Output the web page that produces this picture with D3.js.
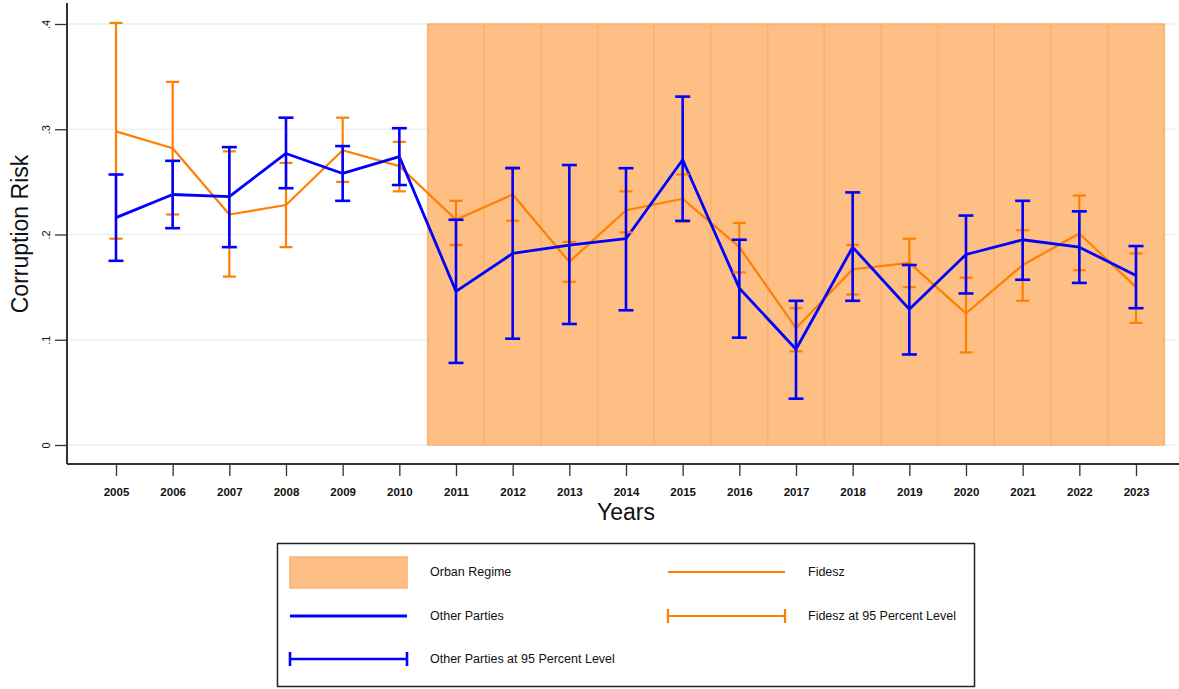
<!DOCTYPE html>
<html>
<head>
<meta charset="utf-8">
<script src="https://cdn.jsdelivr.net/npm/d3@7"></script>
<style>
  html, body { margin: 0; padding: 0; background: #fff; }
  svg { display: block; font-family: "Liberation Sans", Arial, sans-serif; }
</style>
</head>
<body>
<svg id="chart" width="1179" height="689"></svg>
<script>
// Yearly corruption-risk estimates with 95% confidence intervals
const years = [2005, 2006, 2007, 2008, 2009, 2010, 2011, 2012, 2013, 2014,
               2015, 2016, 2017, 2018, 2019, 2020, 2021, 2022, 2023];

const fideszMean = [0.298, 0.282, 0.219, 0.228, 0.280, 0.265, 0.214, 0.238, 0.174, 0.223,
                    0.234, 0.188, 0.111, 0.167, 0.173, 0.125, 0.171, 0.201, 0.150];
const fideszLow  = [0.196, 0.219, 0.160, 0.188, 0.250, 0.241, 0.190, 0.213, 0.155, 0.202,
                    0.212, 0.164, 0.089, 0.143, 0.150, 0.088, 0.137, 0.166, 0.116];
const fideszHigh = [0.401, 0.345, 0.279, 0.268, 0.311, 0.288, 0.232, 0.264, 0.193, 0.241,
                    0.257, 0.211, 0.130, 0.190, 0.196, 0.159, 0.204, 0.237, 0.182];

const otherMean = [0.216, 0.238, 0.236, 0.277, 0.258, 0.274, 0.146, 0.182, 0.190, 0.196,
                   0.271, 0.149, 0.091, 0.188, 0.129, 0.181, 0.195, 0.188, 0.161];
const otherLow  = [0.175, 0.206, 0.188, 0.244, 0.232, 0.247, 0.078, 0.101, 0.115, 0.128,
                   0.213, 0.102, 0.044, 0.137, 0.086, 0.144, 0.157, 0.154, 0.130];
const otherHigh = [0.257, 0.270, 0.283, 0.311, 0.284, 0.301, 0.214, 0.263, 0.266, 0.263,
                   0.331, 0.195, 0.137, 0.240, 0.171, 0.218, 0.232, 0.222, 0.189];

// Years under the Orban government, shaded up to the top of the scale
const regimeYears = [2011, 2012, 2013, 2014, 2015, 2016, 2017, 2018, 2019, 2020, 2021, 2022, 2023];
const regimeTop = 0.4;

const yTicks = [0, 0.1, 0.2, 0.3, 0.4];
const yTickLabels = ["0", ".1", ".2", ".3", ".4"];

const ORANGE = "#ff7f00";
const BLUE = "#0000ff";
const SHADE = "#fdbf84";
const SHADE_EDGE = "#fbb173";

const svg = d3.select("#chart");

const x = d3.scaleLinear().domain([2005, 2023]).range([116, 1136]);
const y = d3.scaleLinear().domain([0, 0.4]).range([445, 24]);

const plotLeft = 67, plotRight = 1179, plotTop = 3, plotBottom = 464;

// Horizontal gridlines
svg.append("g").selectAll("line").data(yTicks).join("line")
  .attr("x1", plotLeft).attr("x2", 1175)
  .attr("y1", d => y(d)).attr("y2", d => y(d))
  .attr("stroke", "#e9f1f3").attr("stroke-width", 1.5);

// Orban regime shading: one bar per year
svg.append("g").selectAll("rect").data(regimeYears).join("rect")
  .attr("x", d => x(d - 0.5))
  .attr("width", d => x(d + 0.5) - x(d - 0.5))
  .attr("y", y(regimeTop))
  .attr("height", y(0) - y(regimeTop))
  .attr("fill", SHADE)
  .attr("stroke", SHADE_EDGE).attr("stroke-width", 1.5);

const rows = years.map((yr, i) => ({
  yr, fm: fideszMean[i], fl: fideszLow[i], fh: fideszHigh[i],
  om: otherMean[i], ol: otherLow[i], oh: otherHigh[i]
}));

// Mean lines
svg.append("path").datum(rows)
  .attr("fill", "none").attr("stroke", ORANGE).attr("stroke-width", 2.2)
  .attr("stroke-linejoin", "round")
  .attr("d", d3.line().x(d => x(d.yr)).y(d => y(d.fm)));

svg.append("path").datum(rows)
  .attr("fill", "none").attr("stroke", BLUE).attr("stroke-width", 2.8)
  .attr("stroke-linejoin", "round")
  .attr("d", d3.line().x(d => x(d.yr)).y(d => y(d.om)));

// Range caps (95% intervals)
function drawCaps(lowKey, highKey, color, width, capHalf) {
  const g = svg.append("g").attr("stroke", color).attr("stroke-width", width).attr("fill", "none");
  const sel = g.selectAll("g").data(rows).join("g");
  sel.append("line")
    .attr("x1", d => x(d.yr)).attr("x2", d => x(d.yr))
    .attr("y1", d => y(d[lowKey])).attr("y2", d => y(d[highKey]));
  sel.append("line")
    .attr("x1", d => x(d.yr) - capHalf).attr("x2", d => x(d.yr) + capHalf)
    .attr("y1", d => y(d[lowKey])).attr("y2", d => y(d[lowKey]));
  sel.append("line")
    .attr("x1", d => x(d.yr) - capHalf).attr("x2", d => x(d.yr) + capHalf)
    .attr("y1", d => y(d[highKey])).attr("y2", d => y(d[highKey]));
}
drawCaps("fl", "fh", ORANGE, 2.2, 6.5);
drawCaps("ol", "oh", BLUE, 2.6, 7.5);

// Axes
const yAxis = svg.append("g").attr("transform", `translate(${plotLeft},0)`)
  .call(d3.axisLeft(y).tickValues(yTicks).tickSize(12).tickFormat((d, i) => yTickLabels[i]));
yAxis.select(".domain").attr("d", `M0,${plotTop}V${plotBottom}`);
const xAxis = svg.append("g").attr("transform", `translate(0,${plotBottom})`)
  .call(d3.axisBottom(x).tickValues(years).tickSize(12).tickFormat(d3.format("d")));
xAxis.select(".domain").attr("d", `M${plotLeft},0H${plotRight}`);

[yAxis, xAxis].forEach(a => {
  a.select(".domain").attr("stroke", "#333").attr("stroke-width", 2);
  a.selectAll(".tick line").attr("stroke", "#333").attr("stroke-width", 1.3);
});

xAxis.selectAll(".tick text")
  .attr("y", 24).attr("font-size", 11.5).attr("fill", "#111")
  .attr("font-family", "'Liberation Sans Narrow', 'Liberation Sans', Arial, sans-serif")
  .attr("font-weight", "bold");

yAxis.selectAll(".tick text")
  .attr("font-size", 11).attr("fill", "#111")
  .attr("transform", "rotate(-90)")
  .attr("x", 0).attr("y", -21)
  .attr("dy", "0.35em")
  .attr("text-anchor", "middle");

// Axis titles
svg.append("text").attr("x", 626).attr("y", 520)
  .attr("text-anchor", "middle").attr("font-size", 23).attr("fill", "#111")
  .text("Years");

svg.append("text")
  .attr("transform", `translate(28,${234}) rotate(-90)`)
  .attr("text-anchor", "middle").attr("font-size", 23).attr("fill", "#111")
  .text("Corruption Risk");

// Legend
const legend = svg.append("g");
legend.append("rect").attr("x", 277.5).attr("y", 543.5).attr("width", 697).attr("height", 143)
  .attr("fill", "#fff").attr("stroke", "#222").attr("stroke-width", 1.5);

const legendItems = [
  { kind: "area", color: SHADE, label: "Orban Regime", sx: 290, tx: 430, cy: 572 },
  { kind: "line", color: ORANGE, label: "Fidesz", sx: 668, tx: 808, cy: 572, w: 2.2 },
  { kind: "line", color: BLUE, label: "Other Parties", sx: 290, tx: 430, cy: 616, w: 2.8 },
  { kind: "cap", color: ORANGE, label: "Fidesz at 95 Percent Level", sx: 668, tx: 808, cy: 616, w: 2.2 },
  { kind: "cap", color: BLUE, label: "Other Parties at 95 Percent Level", sx: 290, tx: 430, cy: 659, w: 2.6 }
];
const swW = 117;
legendItems.forEach(it => {
  if (it.kind === "area") {
    legend.append("rect").attr("x", it.sx).attr("y", it.cy - 15).attr("width", swW).attr("height", 31)
      .attr("fill", it.color).attr("stroke", SHADE_EDGE).attr("stroke-width", 1.5);
  } else {
    legend.append("line").attr("x1", it.sx).attr("x2", it.sx + swW)
      .attr("y1", it.cy).attr("y2", it.cy)
      .attr("stroke", it.color).attr("stroke-width", it.w);
    if (it.kind === "cap") {
      [it.sx, it.sx + swW].forEach(cx => {
        legend.append("line").attr("x1", cx).attr("x2", cx)
          .attr("y1", it.cy - 7).attr("y2", it.cy + 7)
          .attr("stroke", it.color).attr("stroke-width", it.w);
      });
    }
  }
  legend.append("text").attr("x", it.tx).attr("y", it.cy).attr("dy", "0.35em")
    .attr("font-size", 12.5).attr("fill", "#111").text(it.label);
});
</script>
</body>
</html>
